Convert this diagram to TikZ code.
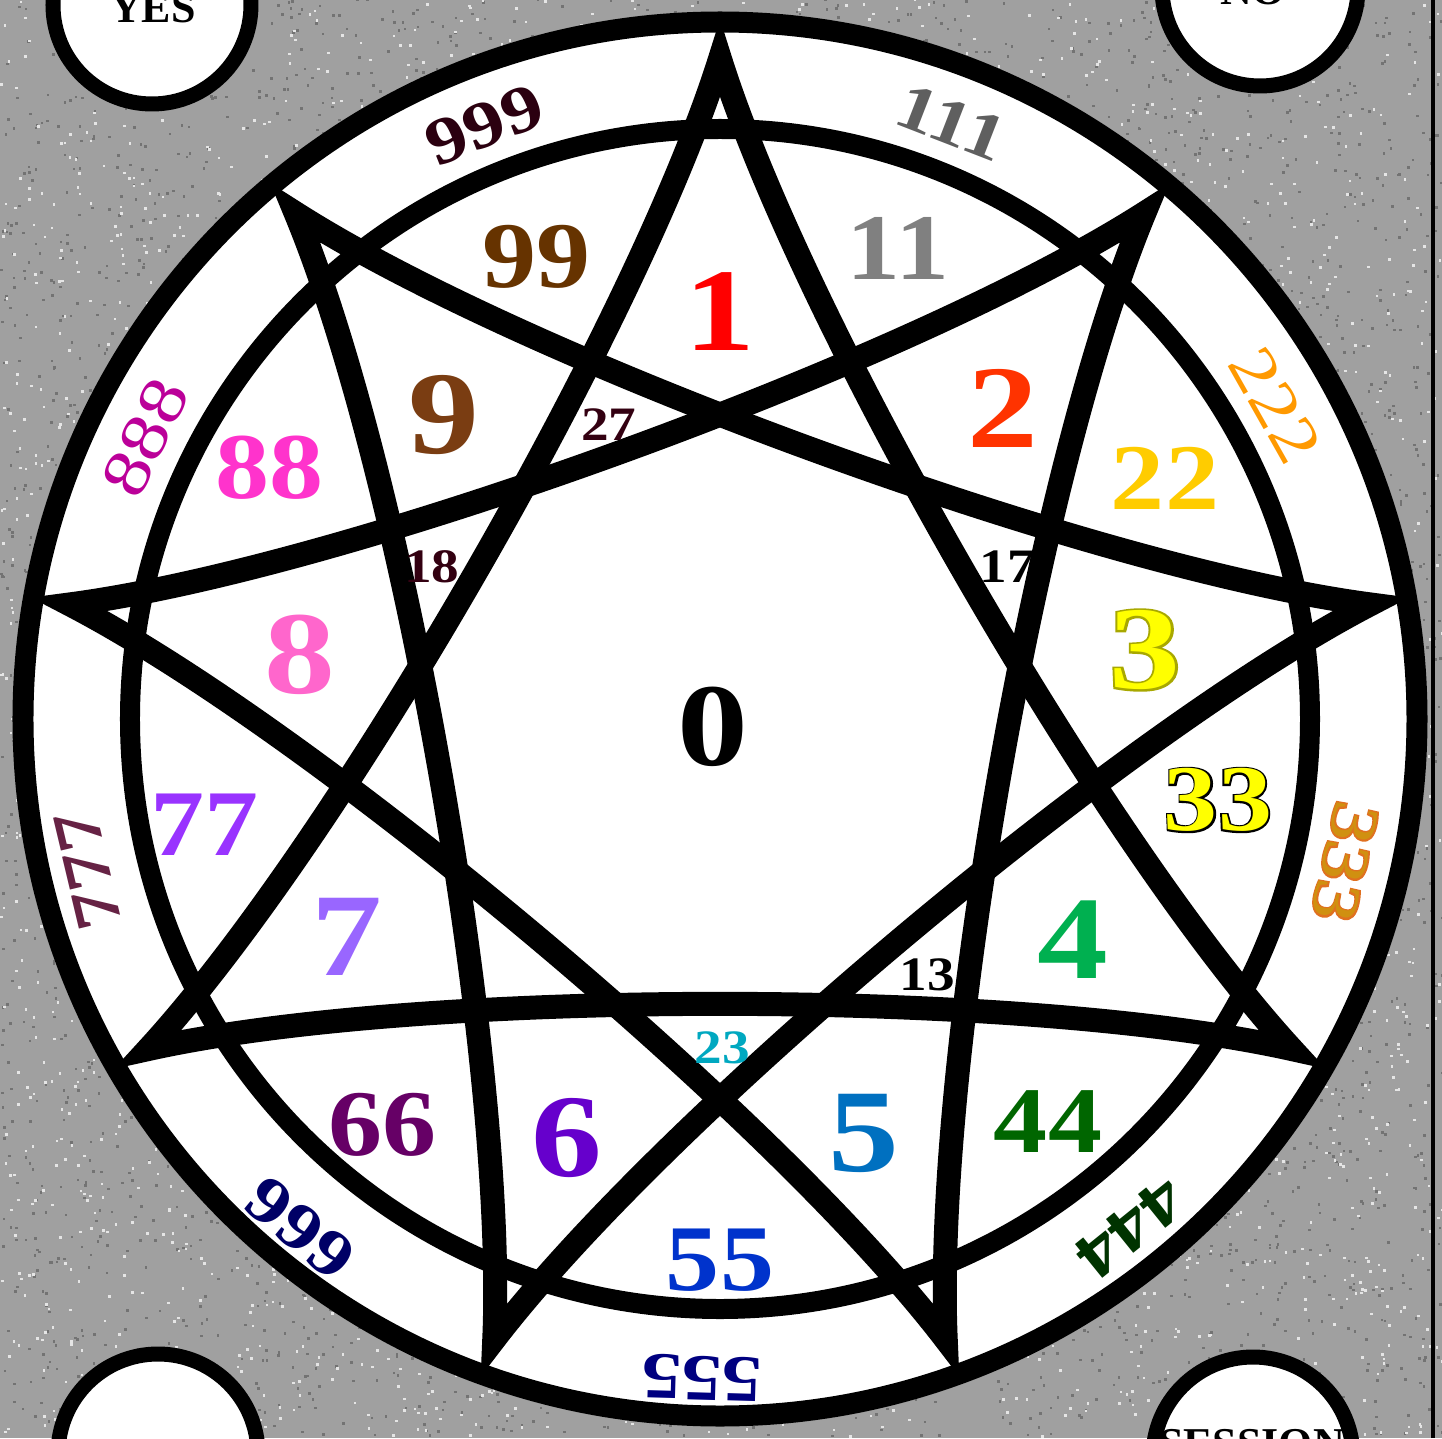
\documentclass[tikz,border=0pt]{standalone}
\usepackage{fontspec}
\setmainfont{Liberation Serif}
\newfontfamily\fatfontA{Liberation Serif Bold}[FakeBold=3.5]
\newfontfamily\fatfontB{Liberation Serif}[FakeBold=4.5]
\definecolor{bggray}{HTML}{A0A0A0}
\definecolor{c1}{HTML}{FF0000}
\definecolor{c11}{HTML}{808080}
\definecolor{c111}{HTML}{5F5F5F}
\definecolor{c2}{HTML}{FF3300}
\definecolor{c22}{HTML}{FFCC00}
\definecolor{c222}{HTML}{FF9900}
\definecolor{c3}{HTML}{FFFF00}
\definecolor{c3o}{HTML}{A8A800}
\definecolor{c333}{HTML}{D09010}
\definecolor{c333o}{HTML}{E07020}
\definecolor{c4}{HTML}{00B050}
\definecolor{c44}{HTML}{006600}
\definecolor{c444}{HTML}{003300}
\definecolor{c5}{HTML}{0070C0}
\definecolor{c55}{HTML}{0033CC}
\definecolor{c555}{HTML}{000080}
\definecolor{c6}{HTML}{6600CC}
\definecolor{c66}{HTML}{660066}
\definecolor{c666}{HTML}{000066}
\definecolor{c7}{HTML}{9966FF}
\definecolor{c77}{HTML}{9933FF}
\definecolor{c777}{HTML}{662244}
\definecolor{c8}{HTML}{FF66CC}
\definecolor{c88}{HTML}{FF33CC}
\definecolor{c888}{HTML}{BB0099}
\definecolor{c9}{HTML}{7A3D12}
\definecolor{c99}{HTML}{663300}
\definecolor{c999}{HTML}{2B0010}
\definecolor{cdark}{HTML}{330011}
\definecolor{c23}{HTML}{00A8C0}
\begin{document}
\begin{tikzpicture}[x=1pt,y=1pt,
  single/.style={font=\fontsize{118}{118}\selectfont\bfseries, inner sep=0, xscale=1.2},
  singlefat/.style={font=\fatfontA\fontsize{118}{118}\selectfont, inner sep=0, xscale=1.2},
  double/.style={font=\fontsize{94}{94}\selectfont\bfseries, inner sep=0, xscale=1.15},
  doublefat/.style={font=\fatfontA\fontsize{94}{94}\selectfont, inner sep=0, xscale=1.15},
  small/.style={font=\fontsize{48}{48}\selectfont\bfseries, inner sep=0, xscale=1.15},
  tripleb/.style={font=\fontsize{66}{66}\selectfont\bfseries, inner sep=0, xscale=1.22},
  triplel/.style={font=\fontsize{66}{66}\selectfont, inner sep=0, xscale=1.22},
  triplefat/.style={font=\fatfontB\fontsize{66}{66}\selectfont, inner sep=0, xscale=1.22},
  corner/.style={font=\fontsize{44}{44}\selectfont\bfseries, inner sep=0, anchor=base},
  cornerring/.style={draw=black, line width=15, fill=white},
  starline/.style={draw=black, line width=24, line join=miter, miter limit=10},
  ring/.style={draw=black}]
\useasboundingbox (-720,-719) rectangle (722,719);
% textured gray background
\fill[bggray] (-720,-719) rectangle (722,719);
\pgfmathsetseed{12}
\foreach \i in {1,...,5500}{\fill[black!55] ({rnd*1442-720},{rnd*1438-719}) rectangle ++(2.6,2.6);}
\foreach \i in {1,...,3800}{\fill[black!10] ({rnd*1442-720},{rnd*1438-719}) rectangle ++(2.6,2.6);}
% disc and rings
\fill[white] (0,0) circle (707);
\draw[ring, line width=21] (0,0) circle (697);
\draw[ring, line width=20] (0,0) circle (590);
% three curved triangles of the nine-pointed star
\foreach \k in {0,1,2}{
  \pgfmathsetmacro\a{90-40*\k}
  \draw[starline] (\a:660)
    .. controls ({\a-60+48.1}:404) and ({\a-60-48.1}:404) .. ({\a-120}:660)
    .. controls ({\a-180+48.1}:404) and ({\a-180-48.1}:404) .. ({\a-240}:660)
    .. controls ({\a-300+48.1}:404) and ({\a-300-48.1}:404) .. cycle;
}
% single digits
\node[single,text=c1] (n1) at (0,407) {1};
\node[single,text=c2] (n2) at (283,311) {2};
\node[singlefat,text=c3o] (n3o) at (425,69) {3};
\node[single,text=c3] (n3) at (425,69) {3};
\node[single,text=c4] (n4) at (353,-221) {4};
\node[single,text=c5] (n5) at (144,-414) {5};
\node[single,text=c6] (n6) at (-153,-419) {6};
\node[single,text=c7] (n7) at (-373,-218) {7};
\node[single,text=c8] (n8) at (-420,64) {8};
\node[single,text=c9] (n9) at (-276,304) {9};
\node[single,text=black] (n0) at (-7,-8) {0};
% doubles
\node[double,text=c99] (n99) at (-183,462) {99};
\node[double,text=c11] (n11) at (178,471) {11};
\node[double,text=c22] (n22) at (445,241) {22};
\node[doublefat,text=black] (n33o) at (498,-81) {33};
\node[double,text=c3] (n33) at (498,-81) {33};
\node[double,text=c44] (n44) at (328,-403) {44};
\node[double,text=c55] (n55) at (0,-541) {55};
\node[double,text=c66] (n66) at (-337,-406) {66};
\node[double,text=c77] (n77) at (-515,-106) {77};
\node[double,text=c88] (n88) at (-450,251) {88};
% small numbers
\node[small,text=cdark] (n27) at (-111,294) {27};
\node[small,text=cdark] (n18) at (-288,152) {18};
\node[small,text=black] (n17) at (287,152) {17};
\node[small,text=black] (n13) at (207,-256) {13};
\node[small,text=c23] (n23) at (2,-329) {23};
% triples in the outer band
\node[rotate=21.6,tripleb,text=c999] (n999) at (111.6:639) {999};
\node[rotate=-21.2,tripleb,text=c111] (n111) at (68.8:640) {111};
\node[rotate=-60.5,triplel,text=c222] (n222) at (29.5:638) {222};
\node[rotate=-102.9,triplefat,text=c333o] (n333o) at (-12.9:641) {333};
\node[rotate=-102.9,triplel,text=c333] (n333) at (-12.9:641) {333};
\node[rotate=-141.1,tripleb,text=c444] (n444) at (-51.1:654) {444};
\node[rotate=-181.6,tripleb,text=c555] (n555) at (-91.6:659) {555};
\node[rotate=-219.5,tripleb,text=c666] (n666) at (-129.5:660) {666};
\node[rotate=-256.6,tripleb,text=c777] (n777) at (-166.6:650) {777};
\node[rotate=63.9,triplel,text=c888] (n888) at (153.9:640) {888};
% corner circles
\draw[cornerring] (-568,714) circle (99);
\draw[cornerring] (540,731) circle (98);
\draw[cornerring] (-562,-735) circle (100);
\draw[cornerring] (533,-738) circle (100);
\node[corner] (yes) at (-567,696) {YES};
\node[corner] (no) at (533,714) {NO};
\node[corner] (session) at (532,-739) {SESSION};
% right border line
\draw[line width=4] (713,-719) -- (713,719);
\end{tikzpicture}
\end{document}
